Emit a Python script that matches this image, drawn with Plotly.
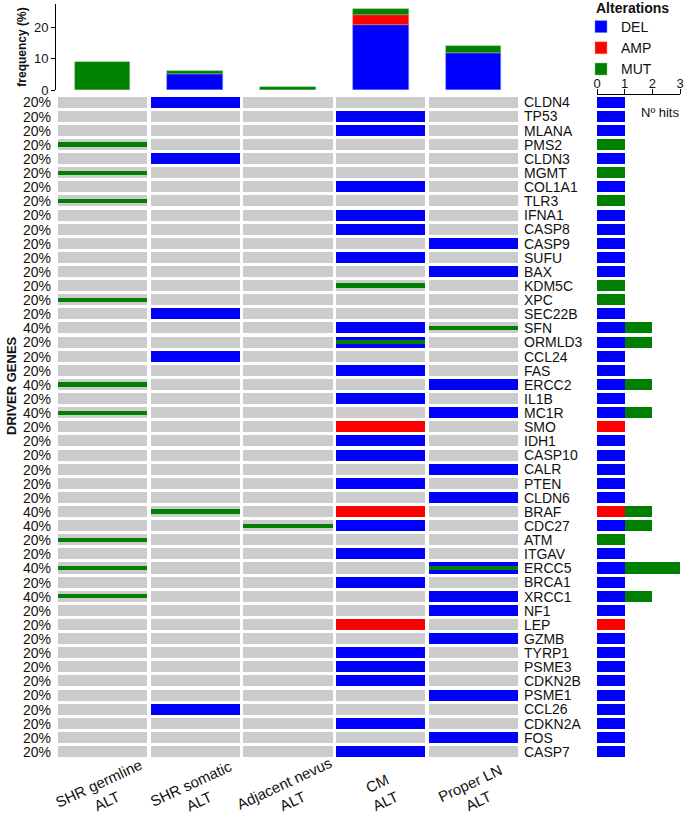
import plotly.graph_objects as go

# ---------------- data ----------------
genes = ["CLDN4", "TP53", "MLANA", "PMS2", "CLDN3", "MGMT", "COL1A1", "TLR3", "IFNA1", "CASP8",
         "CASP9", "SUFU", "BAX", "KDM5C", "XPC", "SEC22B", "SFN", "ORMLD3", "CCL24", "FAS",
         "ERCC2", "IL1B", "MC1R", "SMO", "IDH1", "CASP10", "CALR", "PTEN", "CLDN6", "BRAF",
         "CDC27", "ATM", "ITGAV", "ERCC5", "BRCA1", "XRCC1", "NF1", "LEP", "GZMB", "TYRP1",
         "PSME3", "CDKN2B", "PSME1", "CCL26", "CDKN2A", "FOS", "CASP7"]

percent_labels = ["20%"] * 16 + ["40%", "20%", "20%", "20%", "40%", "20%", "40%",
                  "20%", "20%", "20%", "20%", "20%", "20%", "40%", "40%", "20%", "20%",
                  "40%", "20%", "40%"] + ["20%"] * 11

samples = ["SHR germline<br>ALT", "SHR somatic<br>ALT", "Adjacent nevus<br>ALT", "CM<br>ALT", "Proper LN<br>ALT"]

# alteration codes per gene for the 5 samples: D=DEL, A=AMP, M=MUT
alt_germline = ["", "", "", "M", "", "M", "", "M", "", "", "", "", "", "", "M", "", "", "", "", "",
                "M", "", "M", "", "", "", "", "", "", "", "", "M", "", "M", "", "M", "", "", "", "",
                "", "", "", "", "", "", ""]
alt_somatic = ["D", "", "", "", "D", "", "", "", "", "", "", "", "", "", "", "D", "", "", "D", "",
               "", "", "", "", "", "", "", "", "", "M", "", "", "", "", "", "", "", "", "", "",
               "", "", "", "D", "", "", ""]
alt_nevus = ["", "", "", "", "", "", "", "", "", "", "", "", "", "", "", "", "", "", "", "",
             "", "", "", "", "", "", "", "", "", "", "M", "", "", "", "", "", "", "", "", "",
             "", "", "", "", "", "", ""]
alt_cm = ["", "D", "D", "", "", "", "D", "", "D", "D", "", "D", "", "M", "", "", "D", "DM", "", "D",
          "", "D", "", "A", "D", "D", "", "D", "", "A", "D", "", "D", "", "D", "", "", "A", "", "D",
          "D", "D", "", "", "D", "", "D"]
alt_ln = ["", "", "", "", "", "", "", "", "", "", "D", "", "D", "", "", "", "M", "", "", "",
          "D", "", "D", "", "", "", "D", "", "D", "", "", "", "", "DM", "", "D", "D", "", "D", "",
          "", "", "D", "", "", "D", ""]
alterations = [alt_germline, alt_somatic, alt_nevus, alt_cm, alt_ln]

# top panel: frequency (%) per sample
freq_del = [0, 5, 0, 21, 12]
freq_amp = [0, 0, 0, 3, 0]
freq_mut = [9, 1, 1, 2, 2]

# ---------------- styling ----------------
BLUE, RED, GREEN, GRAY = "#0000FF", "#FF0000", "#008000", "#CCCCCC"
FONT = "Liberation Sans, Arial, sans-serif"
W, H = 685, 816


def px(x):
    return x / W


def py(y):
    return 1 - y / H


X_DOM = [px(56), px(520)]
Y_DOM = [py(759), py(95.4)]
TOP_DOM = [py(90), py(4)]
HITS_DOM = [px(597), px(680)]

CELL_W = 0.96
CELL_H = 0.78
MUT_H = 0.3

n = len(genes)
fig = go.Figure()

# gray background cells
gy, gb = [], []
for c in range(len(samples)):
    for r in range(n):
        gy.append(r)
        gb.append(c - CELL_W / 2)
fig.add_trace(go.Bar(orientation="h", y=gy, x=[CELL_W] * len(gy), base=gb, width=CELL_H,
                     marker=dict(color=GRAY, line=dict(width=0)), showlegend=False,
                     xaxis="x", yaxis="y", hoverinfo="skip"))


def cells(code):
    ys, bs = [], []
    for c, col in enumerate(alterations):
        for r, v in enumerate(col):
            if code in v:
                ys.append(r)
                bs.append(c - CELL_W / 2)
    return ys, bs


for code, color, h in [("D", BLUE, CELL_H), ("A", RED, CELL_H), ("M", GREEN, MUT_H)]:
    ys, bs = cells(code)
    fig.add_trace(go.Bar(orientation="h", y=ys, x=[CELL_W] * len(ys), base=bs, width=h,
                         marker=dict(color=color, line=dict(width=0)), showlegend=False,
                         xaxis="x", yaxis="y"))

# hits panel
del_hits = [sum(1 for col in alterations if "D" in col[r]) for r in range(n)]
amp_hits = [sum(1 for col in alterations if "A" in col[r]) for r in range(n)]
mut_hits = [sum(1 for col in alterations if "M" in col[r]) for r in range(n)]
rows = list(range(n))
fig.add_trace(go.Bar(orientation="h", y=rows, x=del_hits, base=[0] * n, width=CELL_H,
                     marker=dict(color=BLUE, line=dict(width=0)), showlegend=False,
                     xaxis="x3", yaxis="y"))
fig.add_trace(go.Bar(orientation="h", y=rows, x=amp_hits, base=del_hits, width=CELL_H,
                     marker=dict(color=RED, line=dict(width=0)), showlegend=False,
                     xaxis="x3", yaxis="y"))
fig.add_trace(go.Bar(orientation="h", y=rows, x=mut_hits,
                     base=[d + a for d, a in zip(del_hits, amp_hits)], width=CELL_H,
                     marker=dict(color=GREEN, line=dict(width=0)), showlegend=False,
                     xaxis="x3", yaxis="y"))

# top frequency panel
cols = list(range(len(samples)))
fig.add_trace(go.Bar(x=cols, y=freq_del, base=[0] * 5, width=0.6, name="DEL",
                     marker=dict(color=BLUE, line=dict(width=0.6, color="rgba(120,140,255,0.8)")),
                     xaxis="x2", yaxis="y2"))
fig.add_trace(go.Bar(x=cols, y=freq_amp, base=freq_del, width=0.6, name="AMP",
                     marker=dict(color=RED, line=dict(width=0.6, color="rgba(255,140,140,0.8)")),
                     xaxis="x2", yaxis="y2"))
fig.add_trace(go.Bar(x=cols, y=freq_mut, base=[d + a for d, a in zip(freq_del, freq_amp)],
                     width=0.6, name="MUT",
                     marker=dict(color=GREEN, line=dict(width=0.6, color="rgba(120,200,120,0.8)")),
                     xaxis="x2", yaxis="y2"))

annotations = []
for r, p in enumerate(percent_labels):
    annotations.append(dict(x=px(53), xref="paper", y=r, yref="y", text=p, showarrow=False,
                            xanchor="right", yanchor="middle", font=dict(size=14, color="#111")))
for c, s in enumerate(samples):
    annotations.append(dict(x=c, xref="x", y=py(792), yref="paper", text=s, showarrow=False,
                            textangle=-25, align="center", xanchor="center", yanchor="middle",
                            font=dict(size=15, color="#111")))
annotations.append(dict(x=px(11), xref="paper", y=py(386), yref="paper", text="<b>DRIVER GENES</b>",
                        showarrow=False, textangle=-90, xanchor="center", yanchor="middle",
                        font=dict(size=13, color="#111")))
annotations.append(dict(x=px(681), xref="paper", y=py(113), yref="paper", text="Nº hits",
                        showarrow=False, xanchor="right", yanchor="middle",
                        font=dict(size=13, color="#111")))
annotations.append(dict(x=px(594), xref="paper", y=py(8), yref="paper", text="<b>Alterations</b>",
                        showarrow=False, xanchor="left", yanchor="middle",
                        font=dict(size=14, color="#111")))

fig.update_layout(
    width=W, height=H, autosize=False,
    margin=dict(l=0, r=0, t=0, b=0, autoexpand=False),
    paper_bgcolor="white", plot_bgcolor="rgba(0,0,0,0)",
    barmode="overlay", bargap=0,
    font=dict(family=FONT, color="#111"),
    xaxis=dict(domain=X_DOM, range=[-0.5, 4.5], visible=False, anchor="y", automargin=False),
    yaxis=dict(domain=Y_DOM, range=[n - 0.5, -0.5], anchor="x", side="right", automargin=False,
               tickmode="array", tickvals=rows, ticktext=genes, ticks="", showline=False,
               showgrid=False, zeroline=False, ticklabelstandoff=3,
               tickfont=dict(size=14, color="#111")),
    xaxis2=dict(domain=X_DOM, range=[-0.5, 4.5], visible=False, anchor="y2", automargin=False),
    yaxis2=dict(domain=TOP_DOM, range=[0, 27.6], anchor="x2", showline=True, linecolor="black",
                linewidth=1, ticks="outside", ticklen=4, tickcolor="black", tickvals=[0, 10, 20],
                showgrid=False, zeroline=False, tickfont=dict(size=13), automargin=False,
                title=dict(text="<b>frequency (%)</b>", font=dict(size=12), standoff=4)),
    xaxis3=dict(domain=HITS_DOM, range=[0, 3.0001], anchor="y", side="top", showline=True,
                linecolor="black", linewidth=1, ticks="outside", ticklen=5, tickcolor="black",
                tickvals=[0, 1, 2, 3], showgrid=False, zeroline=False, tickfont=dict(size=13),
                ticklabelstandoff=-4, automargin=False),
    legend=dict(x=px(581), y=py(11), xanchor="left", yanchor="top",
                font=dict(size=14), traceorder="normal", tracegroupgap=0,
                bgcolor="rgba(0,0,0,0)", itemwidth=30),
    annotations=annotations,
)

fig.write_html("out.html", config={"displayModeBar": False},
               post_script="document.body.style.margin='0px';")
